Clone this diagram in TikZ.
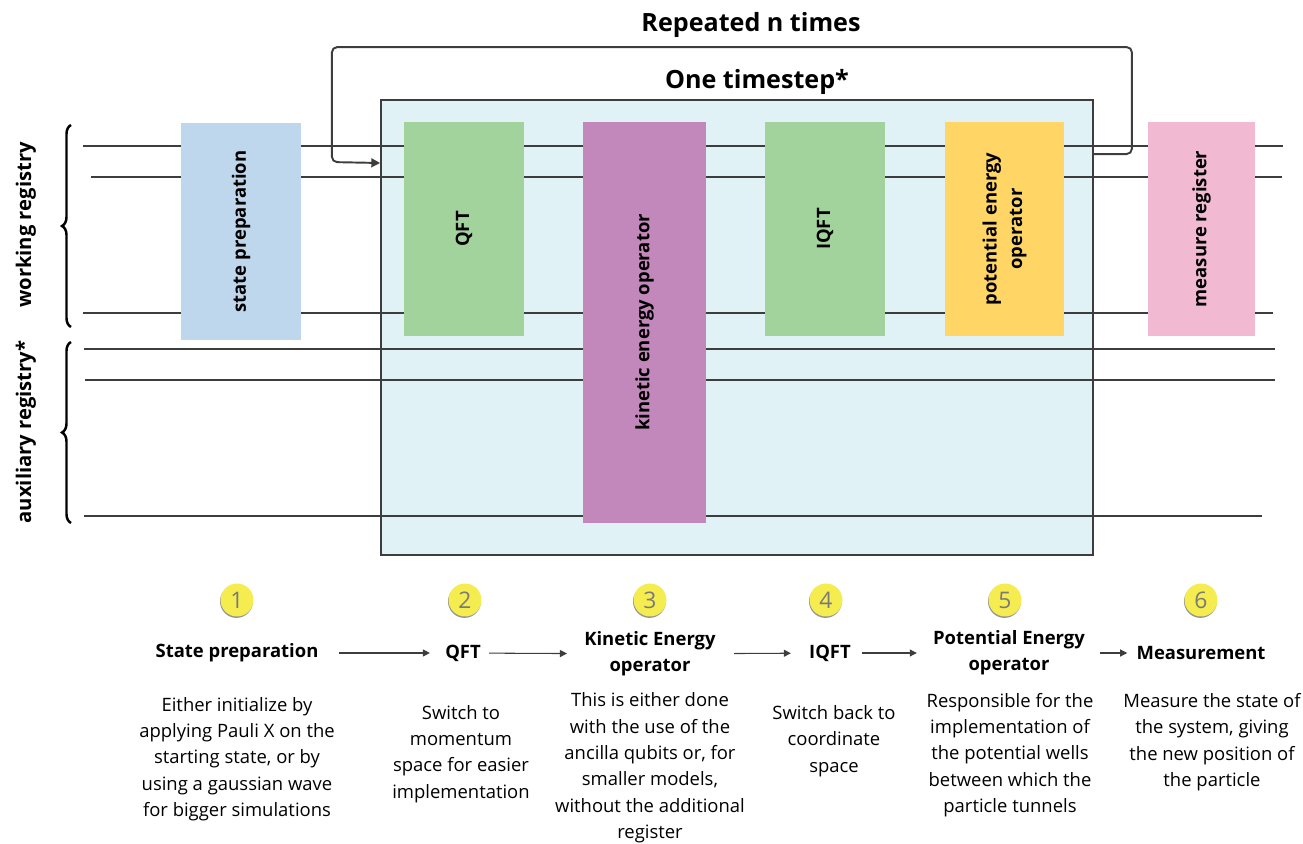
\documentclass[tikz,border=0pt]{standalone}
\usepackage{fontspec}
\setmainfont{Open Sans}
\usetikzlibrary{arrows.meta,decorations.pathreplacing,shadows}
\definecolor{wiregray}{HTML}{3D3D3D}
\definecolor{stepfill}{HTML}{E0F2F5}
\definecolor{stateblue}{HTML}{BFD7EC}
\definecolor{gategreen}{HTML}{A3D39C}
\definecolor{kinpurple}{HTML}{C388BB}
\definecolor{potyellow}{HTML}{FFD666}
\definecolor{measpink}{HTML}{F2B9D3}
\definecolor{numyellow}{HTML}{F5EC50}
\definecolor{numgray}{HTML}{7A7A7A}

\begin{document}
\begin{tikzpicture}[x=0.02cm,y=-0.02cm,
	wire/.style={draw=wiregray,line width=0.9pt},
	timebox/.style={draw=wiregray,line width=1.1pt,fill=stepfill,minimum width=14.24cm,minimum height=9.1cm,inner sep=0pt},
	gate/.style={rotate=90,font=\bfseries\fontsize{10.5}{14.5}\selectfont,align=center,inner sep=0pt},
	looparrow/.style={draw=wiregray,line width=1.1pt,rounded corners=3pt,-{Triangle[length=5pt,width=5pt]}},
	regbrace/.style={decorate,decoration={brace,amplitude=0.18cm},line width=1.4pt},
	reglbl/.style={rotate=90,font=\bfseries\fontsize{11.5}{14}\selectfont},
	heading/.style={font=\bfseries\fontsize{14.3}{17}\selectfont},
	stepnum/.style={circle,fill=numyellow,text=numgray,minimum size=0.66cm,inner sep=0pt,font=\fontsize{13}{15}\selectfont,drop shadow={shadow xshift=-0.3pt,shadow yshift=-0.8pt,opacity=0.7,fill=black!60}},
	steptitle/.style={font=\bfseries\fontsize{10.5}{14.7}\selectfont,align=center,inner sep=0pt},
	stepdesc/.style={font=\fontsize{10.5}{15}\selectfont,align=center,inner sep=0pt},
	flow/.style={draw=wiregray,line width=0.6pt,-{Triangle[length=4pt,width=4pt]}}]
	\useasboundingbox (0,0) rectangle (1303,844);
	\node[timebox] (tstep) at (737,327.5) {};
	\node[heading] (steplbl) at (757,82) {One timestep*};
	\node[heading] (replbl) at (751,25) {Repeated n times};
	\foreach \y/\a/\b in {146/83/1283,177/91/1282,313/83/1273,349/84/1275,380/85/1275,516/84/1262}
		\draw[wire] (\a,\y) -- (\b,\y);
	\foreach \n/\x/\y/\w/\h/\c/\lbl in {sp/241/231.5/120/217/stateblue/state preparation,qft/464/229/120/214/gategreen/QFT,kin/644.5/322.5/123/401/kinpurple/kinetic energy operator,iqft/825/229/120/214/gategreen/IQFT,pot/1004.5/229/119/214/potyellow/{potential energy\\operator},meas/1201.5/229/107/214/measpink/measure register}
		\node[gate,fill=\c,minimum width=\h*0.02cm,minimum height=\w*0.02cm] (\n) at (\x,\y) {\lbl};
	\draw[looparrow] (tstep.north east) ++(0,55) -- ++(38,0) -- ++(0,-107) -- ++(-800,0) -- ++(0,115) -- (tstep.west |- 0,163);
	\draw[regbrace] (71,327) -- (71,125);
	\draw[regbrace] (71,523) -- (71,342);
	\node[reglbl] (wreg) at (26,225) {working registry};
	\node[reglbl] (areg) at (26,432) {auxiliary registry*};
	\foreach \i/\x in {1/237,2/465,3/650,4/826,5/1005,6/1201}
		\node[stepnum] (n\i) at (\x,600) {\i};
	\foreach \i/\x/\y/\lbl in {1/237/653/State preparation,2/463/653/QFT,3/650/654/{Kinetic Energy\\operator},4/830/653/IQFT,5/1009/653/{Potential Energy\\operator},6/1201/653/Measurement}
		\node[steptitle] (t\i) at (\x,\y) {\lbl};
	\foreach \a/\b/\s/\e in {1/2/20/15,2/3/8/17,3/4/18/18,4/5/11/16,5/6/15/9}
		\draw[flow,shorten <=\s*0.02cm,shorten >=\e*0.02cm] (t\a) -- (t\b);
	\foreach \i/\x/\y/\lbl in {1/237/759/{Either initialize by\\applying Pauli X on the\\starting state, or by\\using a gaussian wave\\for bigger simulations},2/461/754/{Switch to\\momentum\\space for easier\\implementation},3/650/768/{This is either done\\with the use of the\\ancilla qubits or, for\\smaller models,\\without the additional\\register},4/834/741/{Switch back to\\coordinate\\space},5/1010/755/{Responsible for the\\implementation of\\the potential wells\\between which the\\particle tunnels},6/1212/742/{Measure the state of\\the system, giving\\the new position of\\the particle}}
		\node[stepdesc] (d\i) at (\x,\y) {\lbl};
\end{tikzpicture}
\end{document}
